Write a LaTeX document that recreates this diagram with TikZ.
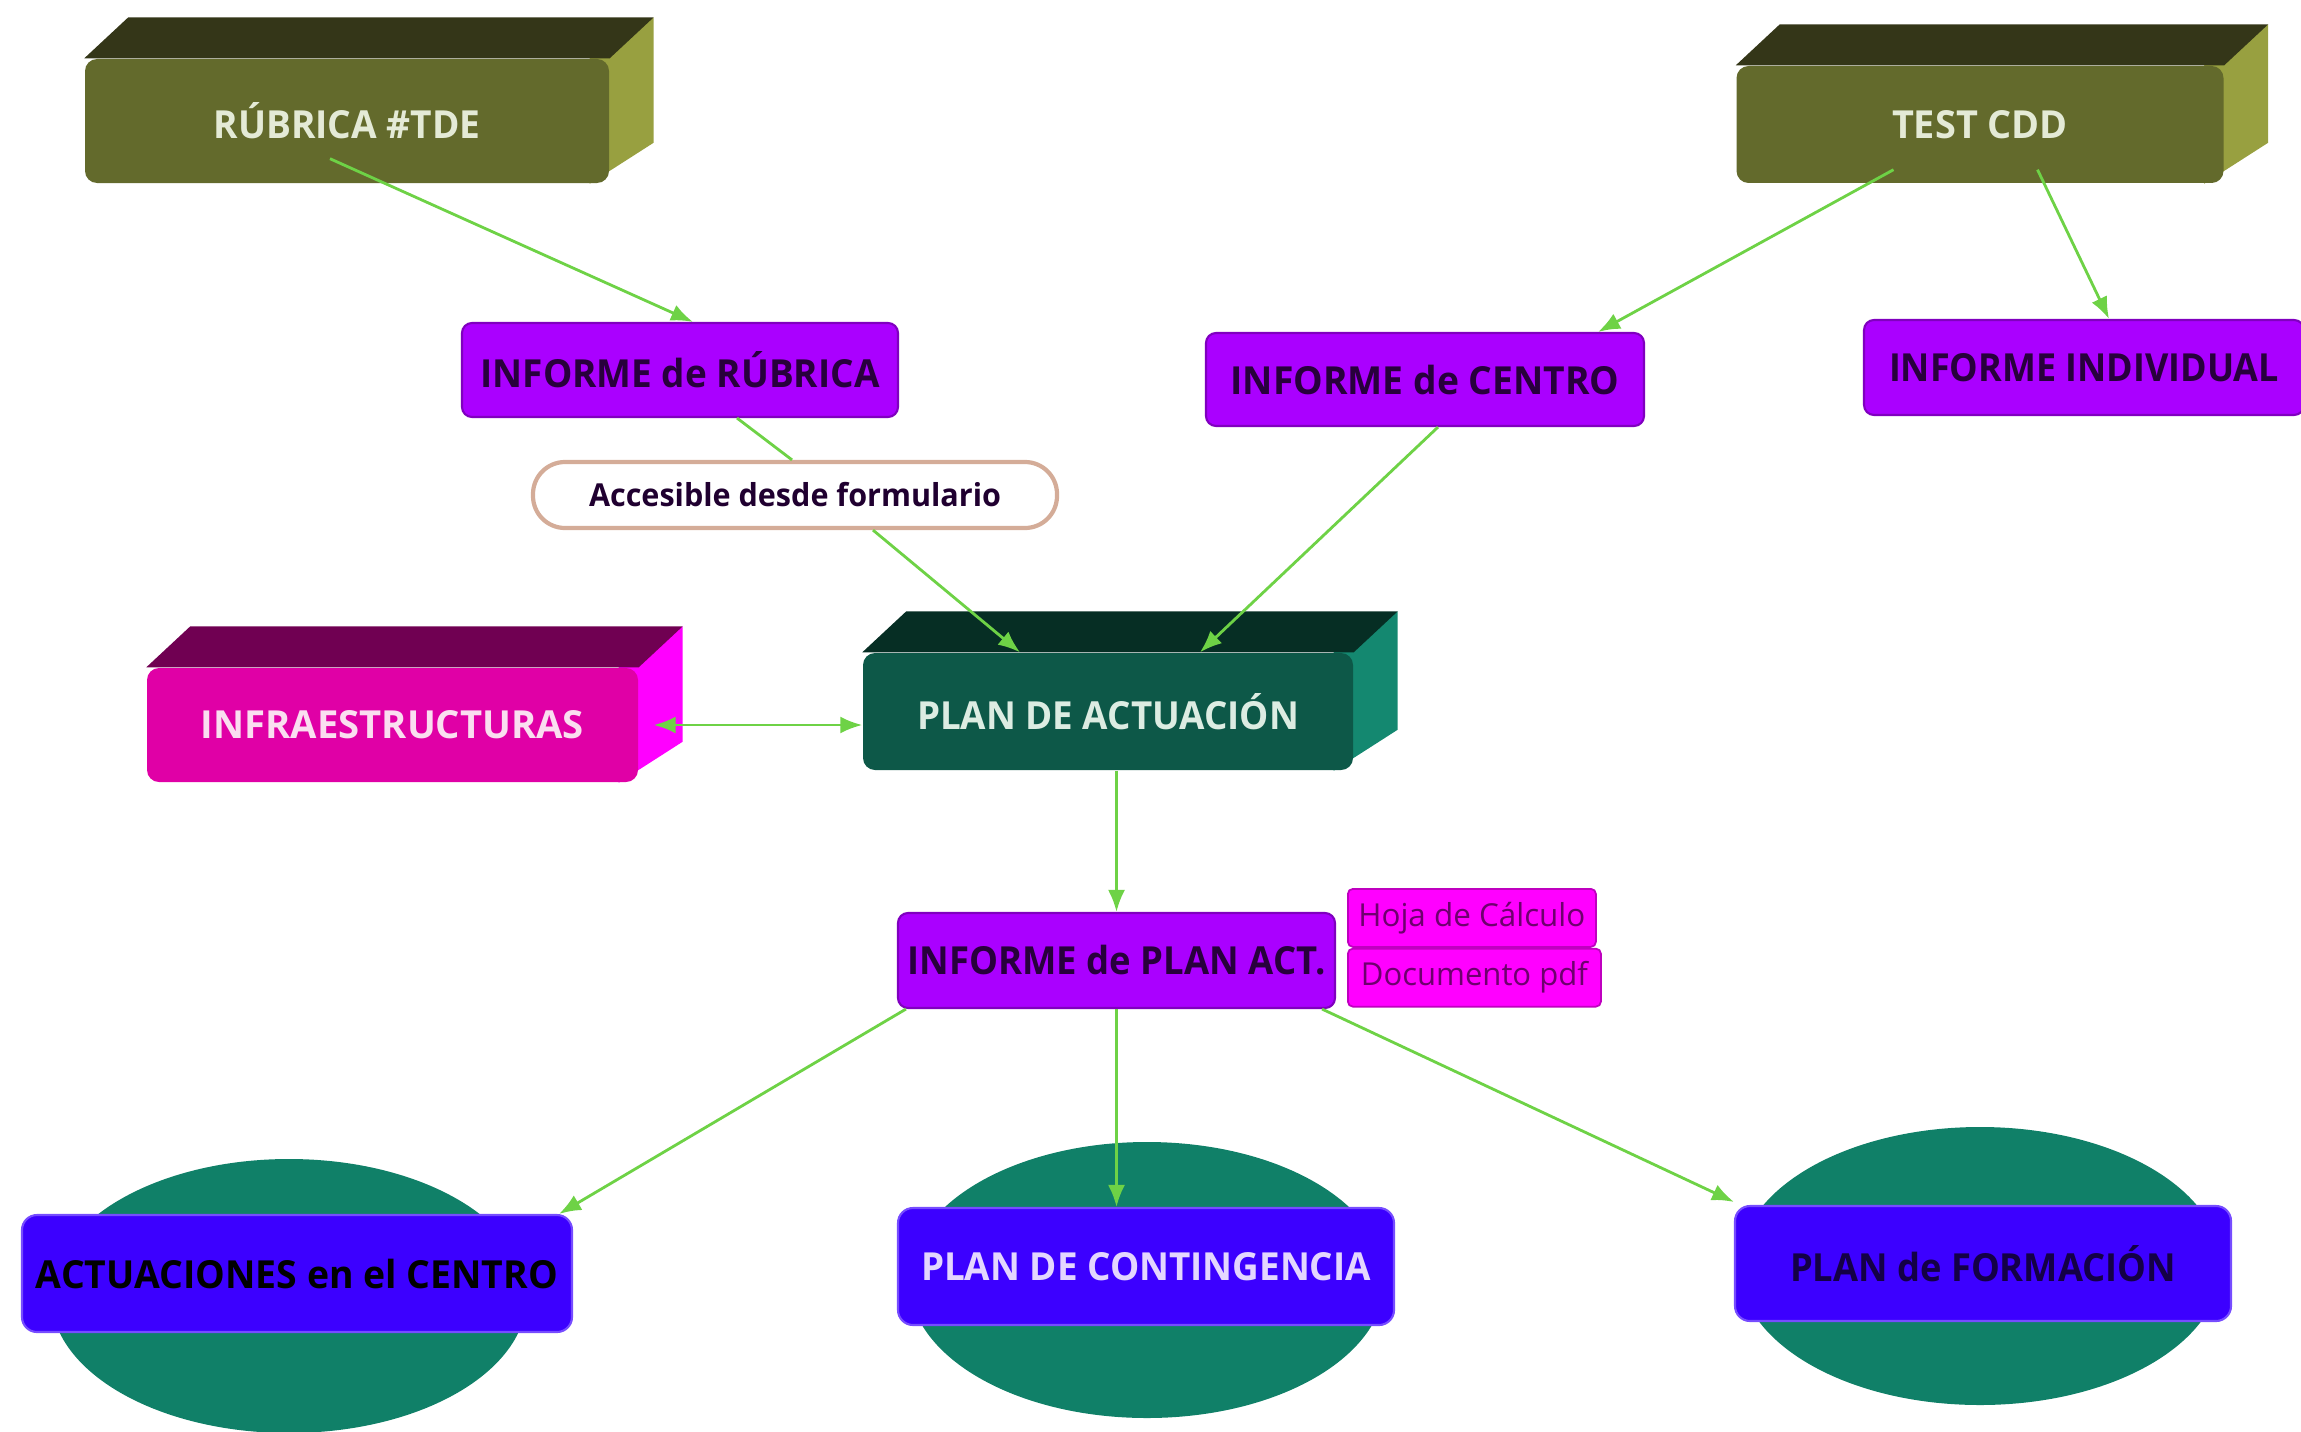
\documentclass[tikz,border=0pt]{standalone}
\usepackage{fontspec}
\setmainfont{Open Sans}
\usetikzlibrary{positioning,shapes.geometric,arrows.meta,backgrounds}

\definecolor{olvfront}{RGB}{99,106,44}
\definecolor{olvtop}{RGB}{52,54,24}
\definecolor{olvside}{RGB}{152,160,64}
\definecolor{magfront}{RGB}{224,0,166}
\definecolor{magtop}{RGB}{112,0,82}
\definecolor{magside}{RGB}{255,0,255}
\definecolor{tealfront}{RGB}{13,88,72}
\definecolor{tealtop}{RGB}{6,46,36}
\definecolor{tealside}{RGB}{20,136,112}
\definecolor{ovalgreen}{RGB}{16,128,104}
\definecolor{infopurple}{RGB}{170,0,255}
\definecolor{infotext}{RGB}{40,0,60}
\definecolor{planblue}{RGB}{60,0,255}
\definecolor{tagpink}{RGB}{255,0,255}
\definecolor{tagtext}{RGB}{110,0,110}
\definecolor{linkgreen}{RGB}{110,210,70}
\definecolor{pillline}{RGB}{212,172,152}
\definecolor{lighttext}{RGB}{228,234,214}

% squeeze a label to a given width, keep its height
\newcommand{\fitw}[2]{\resizebox{#1}{\height}{#2}}

% top and side faces of a box node
\newcommand{\cubefaces}[3]{%
  \begin{pgfonlayer}{background}
    \fill[#3] ([xshift=-2mm]#1.north east) -- ++(0.64,0.41) -- ([shift={(0.44,0.41)}]#1.south east) -- ([xshift=-2mm]#1.south east) -- cycle;
    \fill[#2] (#1.north west) -- ++(0.44,0.41) -- ([shift={(0.44,0.41)}]#1.north east) -- (#1.north east) -- cycle;
  \end{pgfonlayer}}

\tikzset{
  cube/.style={rectangle, rounded corners=1.2mm, inner sep=0pt, font=\bfseries\fontsize{11}{13}\selectfont},
  info/.style={rectangle, rounded corners=1mm, fill=infopurple, draw=infopurple!75!black, line width=0.6pt,
    text=infotext, inner sep=0pt, font=\bfseries\fontsize{11}{13}\selectfont},
  plan/.style={rectangle, rounded corners=1.5mm, fill=planblue, draw=planblue!70!white, line width=0.6pt,
    inner sep=0pt, font=\bfseries\fontsize{11}{13}\selectfont},
  oval/.style={ellipse, fill=ovalgreen, inner sep=0pt},
  tag/.style={rectangle, rounded corners=0.5mm, fill=tagpink, draw=tagpink!75!black, line width=0.5pt,
    text=tagtext, inner sep=0.4mm, minimum height=0.58cm, font=\fontsize{9}{11}\selectfont},
  pill/.style={rectangle, rounded corners=3.2mm, draw=pillline, line width=1.2pt, fill=white,
    text=infotext!80!black, inner sep=0pt, font=\bfseries\fontsize{9}{11}\selectfont},
  link/.style={linkgreen, line width=0.8pt}
}

\begin{document}
\begin{tikzpicture}[>={Latex[length=2.2mm,width=1.7mm]}]
  \useasboundingbox (0,0) rectangle (23.01,-14.32);

  % top row
  \node[cube, fill=olvfront, text=lighttext, minimum width=5.24cm, minimum height=1.24cm] (rubrica) at (3.47,-1.21) {\fitw{2.67cm}{RÚBRICA \#TDE}};
  \cubefaces{rubrica}{olvtop}{olvside}
  \node[cube, fill=olvfront, text=lighttext, minimum width=4.87cm, minimum height=1.17cm] (testcdd) at (19.80,-1.245) {\fitw{1.76cm}{TEST CDD}};
  \cubefaces{testcdd}{olvtop}{olvside}

  \node[info, minimum width=4.36cm, minimum height=0.94cm] (infrub) at (6.80,-3.70) {\fitw{3.99cm}{INFORME de RÚBRICA}};
  \node[info, minimum width=4.38cm, minimum height=0.93cm] (infcentro) at (14.25,-3.795) {\fitw{3.89cm}{INFORME de CENTRO}};
  \node[info, minimum width=4.40cm, minimum height=0.95cm] (infindiv) at (20.84,-3.675) {\fitw{3.90cm}{INFORME INDIVIDUAL}};
  \node[pill, minimum width=5.24cm, minimum height=0.66cm] (accesible) at (7.95,-4.95) {\fitw{4.12cm}{Accesible desde formulario}};

  % middle
  \node[cube, fill=magfront, text={rgb,255:red,250;green,222;blue,240}, minimum width=4.91cm, minimum height=1.14cm] (infra) at (3.925,-7.25) {\fitw{3.83cm}{INFRAESTRUCTURAS}};
  \cubefaces{infra}{magtop}{magside}
  \node[cube, fill=tealfront, text={rgb,255:red,220;green,236;blue,226}, minimum width=4.90cm, minimum height=1.17cm] (planact) at (11.08,-7.115) {\fitw{3.82cm}{PLAN DE ACTUACIÓN}};
  \cubefaces{planact}{tealtop}{tealside}

  \node[info, minimum width=4.37cm, minimum height=0.95cm] (infplan) at (11.165,-9.605) {\fitw{4.18cm}{INFORME de PLAN ACT.}};
  \node[tag, minimum width=2.48cm, anchor=north west] (hoja) at (13.47,-8.88) {\fitw{2.27cm}{Hoja de Cálculo}};
  \node[tag, minimum width=2.53cm, below=0pt of hoja.south west, anchor=north west] (pdf) {\fitw{2.27cm}{Documento pdf}};

  % bottom row
  \node[oval, minimum width=4.76cm, minimum height=2.74cm] (ov1) at (2.89,-12.96) {};
  \node[oval, minimum width=4.76cm, minimum height=2.76cm] (ov2) at (11.47,-12.80) {};
  \node[oval, minimum width=4.82cm, minimum height=2.78cm] (ov3) at (19.80,-12.66) {};
  \node[plan, text=black, minimum width=5.50cm, minimum height=1.17cm] (act) at (2.97,-12.735) {\fitw{5.22cm}{ACTUACIONES en el CENTRO}};
  \node[plan, text={rgb,255:red,228;green,214;blue,255}, minimum width=4.96cm, minimum height=1.17cm] (cont) at (11.46,-12.665) {\fitw{4.50cm}{PLAN DE CONTINGENCIA}};
  \node[plan, text={rgb,255:red,20;green,0;blue,70}, minimum width=4.96cm, minimum height=1.15cm] (form) at (19.83,-12.635) {\fitw{3.86cm}{PLAN de FORMACIÓN}};

  % links
  \draw[link, ->] ([shift={(-0.17,0.25)}]rubrica.south) -- ([xshift=0.13cm]infrub.north);
  \draw[link, ->] ([shift={(-0.865,0.14)}]testcdd.south) -- ([xshift=-0.47cm]infcentro.north east);
  \draw[link, ->] ([shift={(0.575,0.14)}]testcdd.south) -- ([xshift=0.25cm]infindiv.north);
  \draw[link] ([xshift=0.57cm]infrub.south) -- ([xshift=-0.03cm]accesible.north);
  \draw[link, ->] ([xshift=0.78cm]accesible.south) -- ([xshift=-0.88cm]planact.north);
  \draw[link, ->] ([xshift=0.13cm]infcentro.south) -- ([xshift=0.92cm]planact.north);
  \draw[link, <->] ([xshift=0.15cm]infra.east) -- (infra.east -| planact.west);
  \draw[link, ->] (infplan.north |- planact.south) -- (infplan.north);
  \draw[link, ->] ([xshift=0.09cm]infplan.south west) -- ([xshift=-0.14cm]act.north east);
  \draw[link, ->] (infplan.south) -- (infplan.south |- cont.north);
  \draw[link, ->] ([xshift=-0.14cm]infplan.south east) -- ([yshift=0.03cm]form.north west);
\end{tikzpicture}
\end{document}
